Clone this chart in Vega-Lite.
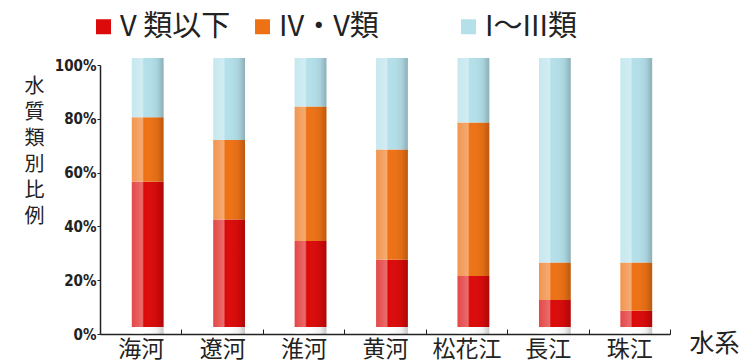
{
  "$schema": "https://vega.github.io/schema/vega-lite/v6.json",
  "autosize": {"type": "none"},
  "padding": {"left": 100, "top": 65, "right": 80, "bottom": 30},
  "width": 570,
  "height": 269,
  "background": "white",
  "config": {
    "view": {"stroke": null},
    "font": "Noto Sans CJK JP"
  },
  "data": {
    "values": [
      {"river": "海河", "cls": "V 類以下", "v": 54, "k": 1},
      {"river": "海河", "cls": "IV・V類", "v": 24, "k": 2},
      {"river": "海河", "cls": "I～III類", "v": 22, "k": 3},
      {"river": "遼河", "cls": "V 類以下", "v": 40, "k": 1},
      {"river": "遼河", "cls": "IV・V類", "v": 29.5, "k": 2},
      {"river": "遼河", "cls": "I～III類", "v": 30.5, "k": 3},
      {"river": "淮河", "cls": "V 類以下", "v": 32, "k": 1},
      {"river": "淮河", "cls": "IV・V類", "v": 50, "k": 2},
      {"river": "淮河", "cls": "I～III類", "v": 18, "k": 3},
      {"river": "黄河", "cls": "V 類以下", "v": 25, "k": 1},
      {"river": "黄河", "cls": "IV・V類", "v": 41, "k": 2},
      {"river": "黄河", "cls": "I～III類", "v": 34, "k": 3},
      {"river": "松花江", "cls": "V 類以下", "v": 19, "k": 1},
      {"river": "松花江", "cls": "IV・V類", "v": 57, "k": 2},
      {"river": "松花江", "cls": "I～III類", "v": 24, "k": 3},
      {"river": "長江", "cls": "V 類以下", "v": 10, "k": 1},
      {"river": "長江", "cls": "IV・V類", "v": 14, "k": 2},
      {"river": "長江", "cls": "I～III類", "v": 76, "k": 3},
      {"river": "珠江", "cls": "V 類以下", "v": 6, "k": 1},
      {"river": "珠江", "cls": "IV・V類", "v": 18, "k": 2},
      {"river": "珠江", "cls": "I～III類", "v": 76, "k": 3}
    ]
  },
  "encoding": {
    "x": {
      "field": "river",
      "type": "nominal",
      "sort": ["海河", "遼河", "淮河", "黄河", "松花江", "長江", "珠江"],
      "scale": {"paddingInner": 0, "paddingOuter": 0},
      "axis": {
        "title": "水系",
        "titleFont": "Noto Sans CJK JP",
        "titleFontSize": 25,
        "titleFontWeight": "normal",
        "titleColor": "#222",
        "titleX": 614,
        "titleY": 9,
        "titleAlign": "center",
        "titleBaseline": "middle",
        "labelAngle": 0,
        "labelFont": "Noto Sans CJK JP",
        "labelFontSize": 23,
        "labelColor": "#222",
        "labelDx": 7,
        "labelPadding": 9,
        "tickBand": "extent",
        "tickSize": -5,
        "tickColor": "#222",
        "domainColor": "#222",
        "domainWidth": 1.5,
        "grid": false
      }
    }
  },
  "layer": [
    {
      "mark": {"type": "bar", "width": {"band": 0.39}, "xOffset": 7, "yOffset": -7, "y2Offset": -7},
      "encoding": {
        "y": {
          "field": "v",
          "type": "quantitative",
          "stack": "zero",
          "scale": {"domain": [0, 100], "nice": false},
          "axis": {
            "values": [0, 20, 40, 60, 80, 100],
            "labelExpr": "datum.value + '%'",
            "labelFont": "DejaVu Sans Condensed",
            "labelFontWeight": "bold",
            "labelFontSize": 15,
            "labelColor": "#222",
            "labelPadding": 1,
            "tickSize": 3,
            "tickColor": "#222",
            "domainColor": "#222",
            "domainWidth": 1.5,
            "grid": false,
            "title": ["水", "質", "類", "別", "比", "例"],
            "titleAngle": 0,
            "titleFont": "Noto Sans CJK JP",
            "titleFontSize": 20,
            "titleFontWeight": "normal",
            "titleColor": "#222",
            "titleLineHeight": 26,
            "titleX": -66,
            "titleY": 11,
            "titleAlign": "center",
            "titleBaseline": "top"
          }
        },
        "order": {"field": "k", "type": "quantitative"},
        "color": {
          "field": "cls",
          "type": "nominal",
          "scale": {
            "domain": ["V 類以下", "IV・V類", "I～III類"],
            "range": ["#dc0a0a", "#ee7215", "#b4e0ea"]
          },
          "legend": {
            "title": null,
            "orient": "none",
            "direction": "horizontal",
            "legendX": -11,
            "legendY": -53,
            "symbolType": "square",
            "symbolSize": 225,
            "symbolStrokeWidth": 0,
            "labelFont": "Noto Sans CJK JP",
            "labelFontSize": 29,
            "labelColor": "#222",
            "labelOffset": 2,
            "columnPadding": 17,
            "labelLimit": 300,
            "labelExpr": "datum.label === 'IV・V類' ? datum.label + '\u3000\u3000\u200B' : datum.label"
          }
        }
      }
    },
    {
      "mark": {
        "type": "bar",
        "width": {"band": 0.39},
        "xOffset": 7,
        "yOffset": -7,
        "y2Offset": -7,
        "color": {
          "gradient": "linear",
          "x1": 0, "x2": 1, "y1": 0, "y2": 0,
          "stops": [
            {"offset": 0, "color": "rgba(255,255,255,0.25)"},
            {"offset": 0.33, "color": "rgba(255,255,255,0.4)"},
            {"offset": 0.38, "color": "rgba(255,255,255,0)"},
            {"offset": 0.8, "color": "rgba(0,0,0,0.06)"},
            {"offset": 1, "color": "rgba(0,0,0,0.22)"}
          ]
        }
      },
      "encoding": {
        "y": {"aggregate": "sum", "field": "v", "type": "quantitative"}
      }
    }
  ]
}
